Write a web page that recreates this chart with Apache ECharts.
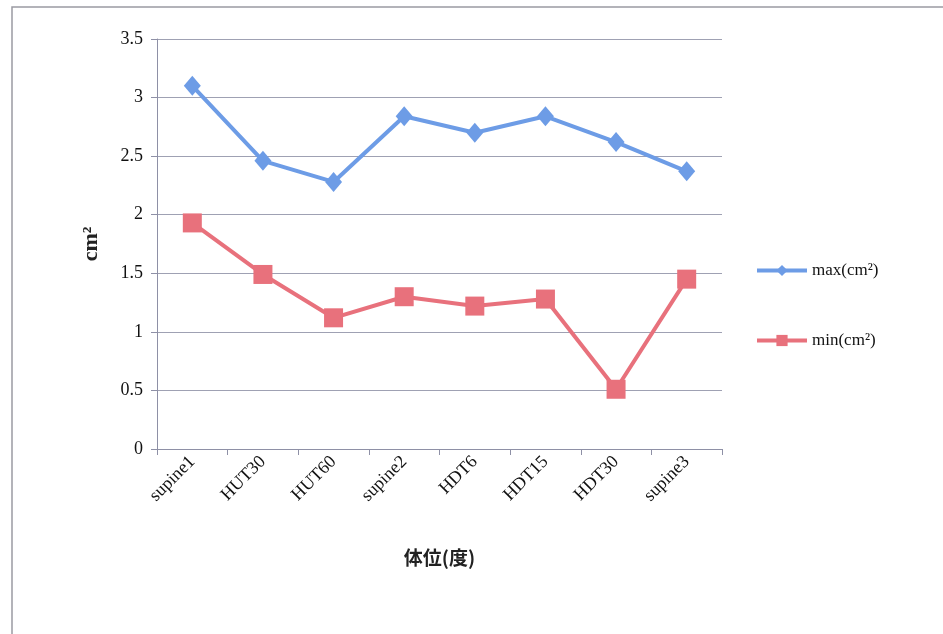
<!DOCTYPE html>
<html>
<head>
<meta charset="utf-8">
<script src="https://cdn.jsdelivr.net/npm/echarts@6/dist/echarts.min.js"></script>
<style>
html,body{margin:0;padding:0;background:#fff;}
#chart{width:943px;height:634px;}
</style>
</head>
<body>
<div id="chart"></div>
<script>
// Posture categories and cross-sectional area values (cm²)
const categories = ['supine1', 'HUT30', 'HUT60', 'supine2', 'HDT6', 'HDT15', 'HDT30', 'supine3'];
const maxValues = [3.10, 2.46, 2.28, 2.84, 2.70, 2.84, 2.62, 2.37];
const minValues = [1.93, 1.49, 1.12, 1.30, 1.22, 1.28, 0.51, 1.45];
const yTicks = [0, 0.5, 1, 1.5, 2, 2.5, 3, 3.5];

const serif = '"Liberation Serif", "DejaVu Serif", serif';
const cjk = '"Noto Sans CJK JP", "Noto Sans CJK SC", sans-serif';
const axisGray = '#8e90a6';
const blue = '#6d9ce6';
const red = '#e8717c';

const chart = echarts.init(document.getElementById('chart'), null, { renderer: 'canvas' });
chart.setOption({
  animation: false,
  backgroundColor: '#ffffff',
  graphic: [{
    type: 'rect',
    shape: { x: 12, y: 7, width: 940, height: 640 },
    style: { fill: 'none', stroke: '#9a9aa2', lineWidth: 1.5 },
    silent: true
  }],
  grid: { left: 157, right: 221, top: 39, bottom: 185 },
  legend: {
    orient: 'vertical',
    left: 755,
    top: 262,
    padding: 0,
    itemGap: 53,
    itemWidth: 50,
    itemHeight: 14,
    lineStyle: { width: 4 },
    textStyle: { fontFamily: serif, fontSize: 17, color: '#111' },
    data: ['max(cm²)', 'min(cm²)']
  },
  xAxis: {
    type: 'category',
    data: categories,
    boundaryGap: true,
    name: '体位(度)',
    nameLocation: 'middle',
    nameGap: 99,
    nameTextStyle: { fontFamily: cjk, fontWeight: 'bold', fontSize: 19, color: '#222' },
    axisLine: { lineStyle: { color: axisGray, width: 1 } },
    axisTick: { show: true, length: 6, lineStyle: { color: axisGray } },
    axisLabel: { rotate: 45, fontFamily: serif, fontSize: 18, color: '#111', margin: 10 },
    splitLine: { show: false }
  },
  yAxis: {
    type: 'value',
    min: yTicks[0],
    max: yTicks[yTicks.length - 1],
    interval: 0.5,
    name: 'cm²',
    nameLocation: 'middle',
    nameGap: 55,
    nameRotate: 90,
    nameTextStyle: { fontFamily: serif, fontWeight: 'bold', fontSize: 22, color: '#222' },
    axisLine: { show: true, lineStyle: { color: axisGray, width: 1 } },
    axisTick: { show: true, length: 6, lineStyle: { color: axisGray } },
    axisLabel: { fontFamily: serif, fontSize: 18, color: '#111', margin: 14 },
    splitLine: { show: true, lineStyle: { color: '#9fa1b3', width: 1.2 } }
  },
  series: [
    {
      name: 'max(cm²)',
      type: 'line',
      data: maxValues,
      symbol: 'diamond',
      symbolSize: [17, 20],
      lineStyle: { color: blue, width: 4 },
      itemStyle: { color: blue },
      z: 3
    },
    {
      name: 'min(cm²)',
      type: 'line',
      data: minValues,
      symbol: 'rect',
      symbolSize: 19,
      lineStyle: { color: red, width: 4 },
      itemStyle: { color: red },
      z: 2
    }
  ]
});
</script>
</body>
</html>
